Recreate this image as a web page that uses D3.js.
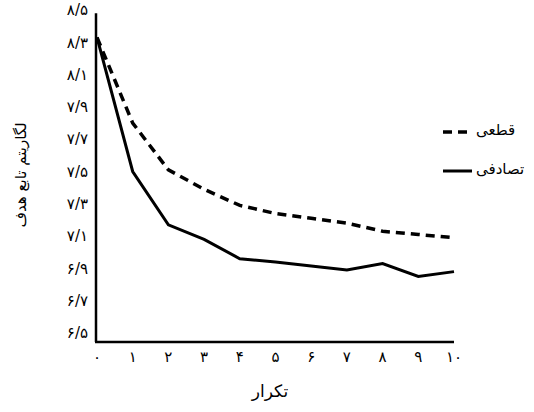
<!DOCTYPE html>
<html><head><meta charset="utf-8">
<script src="https://cdn.jsdelivr.net/npm/d3@7"></script>
<style>body{margin:0;background:#fff}svg{display:block}text{font-family:"DejaVu Sans","Noto Sans",sans-serif;fill:#000}</style>
</head><body><svg id="c" width="534" height="412"></svg>
<script>
const iterations = [0,1,2,3,4,5,6,7,8,9,10];
const deterministic = [8.33,7.80,7.51,7.39,7.29,7.24,7.21,7.18,7.13,7.11,7.09];
const stochastic   = [8.33,7.50,7.17,7.08,6.96,6.94,6.915,6.89,6.93,6.85,6.88];
const yTicks = [6.5,6.7,6.9,7.1,7.3,7.5,7.7,7.9,8.1,8.3,8.5];
const seriesNames = ["قطعی","تصادفی"];
const xTitle = "تکرار";
const yTitle = "لگاریتم تابع هدف";

const fa = s => String(s).replace(/[0-9]/g, d => "۰۱۲۳۴۵۶۷۸۹"[d]).replace(".", "/");
const svg = d3.select("#c");
const x = d3.scaleLinear().domain([0,10]).range([97,454]);
const y = d3.scaleLinear().domain([6.5,8.5]).range([333,10]);

svg.append("line").attr("x1",x(0)-1).attr("x2",x(0)-1).attr("y1",y(8.48)).attr("y2",y(6.444))
  .attr("stroke","#000").attr("stroke-width",2.5);
svg.append("line").attr("x1",x(0)-2).attr("x2",x(10)).attr("y1",y(6.444)).attr("y2",y(6.444))
  .attr("stroke","#000").attr("stroke-width",2.5);

svg.append("g").selectAll("text").data(yTicks).join("text")
  .attr("x",88).attr("y",d=>y(d)).attr("dy","0.35em").attr("text-anchor","end")
  .attr("font-size",15).text(d=>fa(d.toFixed(1)));
svg.append("g").selectAll("text").data(iterations).join("text")
  .attr("x",d=>x(d)).attr("y",357).attr("dy","0.35em").attr("text-anchor","middle")
  .attr("font-size",15).text(d=>fa(d));

const line = d3.line().x((d,i)=>x(iterations[i])).y(d=>y(d));
svg.append("path").attr("d",line(deterministic)).attr("fill","none").attr("stroke","#000")
  .attr("stroke-width",3.5).attr("stroke-dasharray","9,6");
svg.append("path").attr("d",line(stochastic)).attr("fill","none").attr("stroke","#000")
  .attr("stroke-width",3).attr("stroke-linejoin","miter");

const leg = svg.append("g");
[["9,6",132,3.5],[null,171,3]].forEach((p,i)=>{
  const l = leg.append("line").attr("x1",443).attr("x2",472).attr("y1",p[1]).attr("y2",p[1])
    .attr("stroke","#000").attr("stroke-width",p[2]);
  if(p[0]) l.attr("stroke-dasharray",p[0]);
  leg.append("text").attr("x",476).attr("y",p[1]).attr("dy","0.2em").attr("text-anchor","start")
    .attr("font-size",15).text(seriesNames[i]);
});

svg.append("text").attr("x",270).attr("y",397).attr("text-anchor","middle").attr("font-size",17).text(xTitle);
svg.append("text").attr("transform","translate(26,175) rotate(-90)").attr("text-anchor","middle")
  .attr("font-size",15).text(yTitle);
</script></body></html>
